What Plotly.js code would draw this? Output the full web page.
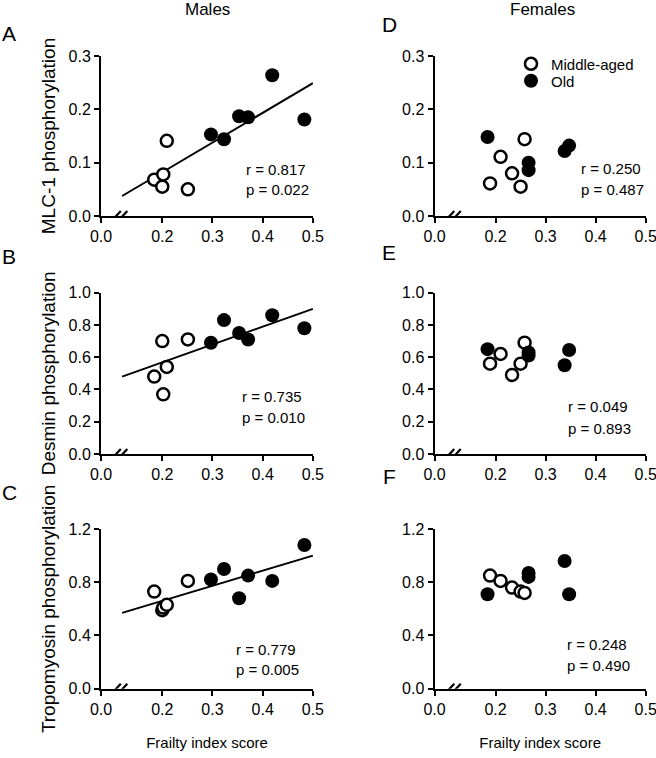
<!DOCTYPE html>
<html><head><meta charset="utf-8">
<script src="https://cdn.plot.ly/plotly-3.0.1.min.js"></script>
<style>html,body{margin:0;padding:0;background:#fff}#chart{width:656px;height:758px}</style>
</head><body><div id="chart"></div>
<script>
// ---------- data ----------
const maleMidFrailty   = [0.184, 0.200, 0.202, 0.209, 0.251];
const maleOldFrailty   = [0.297, 0.323, 0.353, 0.371, 0.419, 0.483];
const femaleMidFrailty = [0.189, 0.210, 0.233, 0.250, 0.258];
const femaleOldFrailty = [0.184, 0.266, 0.266, 0.338, 0.347];

const mlcMaleMid   = [0.068, 0.055, 0.078, 0.141, 0.050];
const mlcMaleOld   = [0.153, 0.144, 0.187, 0.185, 0.264, 0.181];
const mlcFemaleMid = [0.061, 0.111, 0.080, 0.055, 0.144];
const mlcFemaleOld = [0.148, 0.100, 0.086, 0.122, 0.132];

const desMaleMid   = [0.48, 0.70, 0.37, 0.54, 0.71];
const desMaleOld   = [0.69, 0.83, 0.75, 0.71, 0.86, 0.78];
const desFemaleMid = [0.56, 0.62, 0.49, 0.56, 0.69];
const desFemaleOld = [0.65, 0.63, 0.61, 0.55, 0.645];

const tpmMaleMid   = [0.73, 0.59, 0.61, 0.63, 0.81];
const tpmMaleOld   = [0.82, 0.90, 0.68, 0.85, 0.81, 1.08];
const tpmFemaleMid = [0.85, 0.81, 0.76, 0.73, 0.72];
const tpmFemaleOld = [0.71, 0.87, 0.84, 0.96, 0.71];

const fitX     = [0.12, 0.5];
const mlcFitY  = [0.0375, 0.249];
const desFitY  = [0.48, 0.90];
const tpmFitY  = [0.57, 1.00];

const rLabels = ["r = 0.817", "r = 0.250", "r = 0.735", "r = 0.049", "r = 0.779", "r = 0.248"];
const pLabels = ["p = 0.022", "p = 0.487", "p = 0.010", "p = 0.893", "p = 0.005", "p = 0.490"];
const panelLetters = ["A", "D", "B", "E", "C", "F"];
const columnTitles = ["Males", "Females"];
const yTitles = ["MLC-1 phosphorylation", "Desmin phosphorylation", "Tropomyosin phosphorylation"];
const xTitle = "Frailty index score";
const xTickValsReal = [0.2, 0.3, 0.4, 0.5];
const xTickText = ["0.0", "0.2", "0.3", "0.4", "0.5"];
const groupNames = ["Middle-aged", "Old"];

// ---------- layout helpers ----------
const W = 656, H = 758;
const FONT = "Liberation Sans, Arial, sans-serif";
const xStart = 0.078;           // axis position drawn as "0.0" (broken axis)
const xEnd = 0.5004;
const colDom = [[101 / W, 313.1 / W], [434.5 / W, 645.9 / W]];
const rowPx = [[56, 216], [292.7, 454], [529, 688.7]];
const rowDom = rowPx.map(([t, b]) => [(H - b) / H, (H - t) / H]);
const yRanges = [[0, 0.3], [0, 1.0], [0, 1.2]];
const yDticks = [0.1, 0.2, 0.4];

const panels = [
  {row: 0, col: 0, mid: [maleMidFrailty, mlcMaleMid], old: [maleOldFrailty, mlcMaleOld], fit: mlcFitY, txt: [[0.362, 0.087], [0.362, 0.050]]},
  {row: 0, col: 1, mid: [femaleMidFrailty, mlcFemaleMid], old: [femaleOldFrailty, mlcFemaleOld], fit: null, txt: [[0.366, 0.089], [0.366, 0.049]]},
  {row: 1, col: 0, mid: [maleMidFrailty, desMaleMid], old: [maleOldFrailty, desMaleOld], fit: desFitY, txt: [[0.355, 0.355], [0.355, 0.225]]},
  {row: 1, col: 1, mid: [femaleMidFrailty, desFemaleMid], old: [femaleOldFrailty, desFemaleOld], fit: null, txt: [[0.341, 0.293], [0.341, 0.159]]},
  {row: 2, col: 0, mid: [maleMidFrailty, tpmMaleMid], old: [maleOldFrailty, tpmMaleOld], fit: tpmFitY, txt: [[0.342, 0.296], [0.342, 0.142]]},
  {row: 2, col: 1, mid: [femaleMidFrailty, tpmFemaleMid], old: [femaleOldFrailty, tpmFemaleOld], fit: null, txt: [[0.339, 0.335], [0.339, 0.176]]},
];

const traces = [];
const legendBase = {x: 511 / W, xanchor: "left", yanchor: "middle",
  bgcolor: "rgba(0,0,0,0)", font: {size: 15}, borderwidth: 0};
const layout = {
  width: W, height: H,
  margin: {l: 0, r: 0, t: 0, b: 0},
  paper_bgcolor: "#fff", plot_bgcolor: "rgba(0,0,0,0)",
  font: {family: FONT, size: 15, color: "#000"},
  showlegend: true,
  legend:  Object.assign({}, legendBase, {y: (H - 64) / H}),
  legend2: Object.assign({}, legendBase, {y: (H - 81) / H}),
  annotations: [], shapes: []
};

panels.forEach((p, i) => {
  const n = i + 1;
  const xa = "x" + (n === 1 ? "" : n), ya = "y" + (n === 1 ? "" : n);
  const xk = "xaxis" + (n === 1 ? "" : n), yk = "yaxis" + (n === 1 ? "" : n);
  layout[xk] = {
    domain: colDom[p.col], anchor: ya, range: [xStart, xEnd],
    tickvals: [xStart].concat(xTickValsReal), ticktext: xTickText, ticklabeloverflow: "allow",
    showline: true, linewidth: 2, linecolor: "#000", ticks: "outside", ticklen: 5, tickwidth: 2, tickcolor: "#000",
    showgrid: false, zeroline: false, fixedrange: true, tickfont: {size: 16}
  };
  if (p.row === 2) layout[xk].title = {text: xTitle, font: {size: 15}, standoff: 21};
  layout[yk] = {
    domain: rowDom[p.row], anchor: xa, range: yRanges[p.row], dtick: yDticks[p.row], tick0: 0, tickformat: ".1f",
    showline: true, linewidth: 2, linecolor: "#000", ticks: "outside", ticklen: 5, tickwidth: 2, tickcolor: "#000",
    showgrid: false, zeroline: false, fixedrange: true, tickfont: {size: 16}
  };
  if (p.col === 0) layout[yk].title = {text: yTitles[p.row], font: {size: 19}, standoff: 8};

  if (p.fit) traces.push({x: fitX, y: p.fit, xaxis: xa, yaxis: ya, mode: "lines",
    line: {color: "#000", width: 2}, showlegend: false, hoverinfo: "skip"});
  traces.push({x: p.mid[0], y: p.mid[1], xaxis: xa, yaxis: ya, mode: "markers", name: groupNames[0],
    legend: "legend", showlegend: i === 1,
    marker: {symbol: "circle", size: 12, color: "#fff", line: {color: "#000", width: 2.5}}});
  traces.push({x: p.old[0], y: p.old[1], xaxis: xa, yaxis: ya, mode: "markers", name: groupNames[1],
    legend: "legend2", showlegend: i === 1,
    marker: {symbol: "circle", size: 14, color: "#000", line: {width: 0}}});

  // r / p labels
  [rLabels[i], pLabels[i]].forEach((t, k) => layout.annotations.push({
    text: t, xref: xa, yref: ya, x: p.txt[k][0], y: p.txt[k][1], xanchor: "left", yanchor: "middle",
    showarrow: false, font: {size: 15}
  }));

  // axis break marks "//"
  const bx = 0.1035;
  layout.shapes.push({type: "rect", layer: "above", xref: xa, yref: ya, xsizemode: "pixel", ysizemode: "pixel",
    xanchor: bx, yanchor: 0, x0: 2.5, x1: 10, y0: -2, y1: 2, fillcolor: "#fff", line: {width: 0}});
  [0, 6.5].forEach(dx => layout.shapes.push({type: "line", layer: "above", xref: xa, yref: ya,
    xsizemode: "pixel", ysizemode: "pixel", xanchor: bx, yanchor: 0,
    x0: -6 + dx, x1: 7 + dx, y0: -9, y1: 5, line: {color: "#000", width: 2.2}}));
});

// panel letters & column titles
const letterPos = [[9, 33], [389, 25], [9, 257], [389, 252], [9, 492], [389, 476]];
panelLetters.forEach((L, i) => layout.annotations.push({text: L, xref: "paper", yref: "paper",
  x: letterPos[i][0] / W, y: (H - letterPos[i][1]) / H, xanchor: "center", yanchor: "middle",
  showarrow: false, font: {size: 21}}));
const colTitlePos = [[207, 9], [542, 9]];
columnTitles.forEach((t, i) => layout.annotations.push({text: t, xref: "paper", yref: "paper",
  x: colTitlePos[i][0] / W, y: (H - colTitlePos[i][1]) / H, xanchor: "center", yanchor: "middle",
  showarrow: false, font: {size: 17}}));

Plotly.newPlot("chart", traces, layout, {displayModeBar: false, staticPlot: true});
</script></body></html>
